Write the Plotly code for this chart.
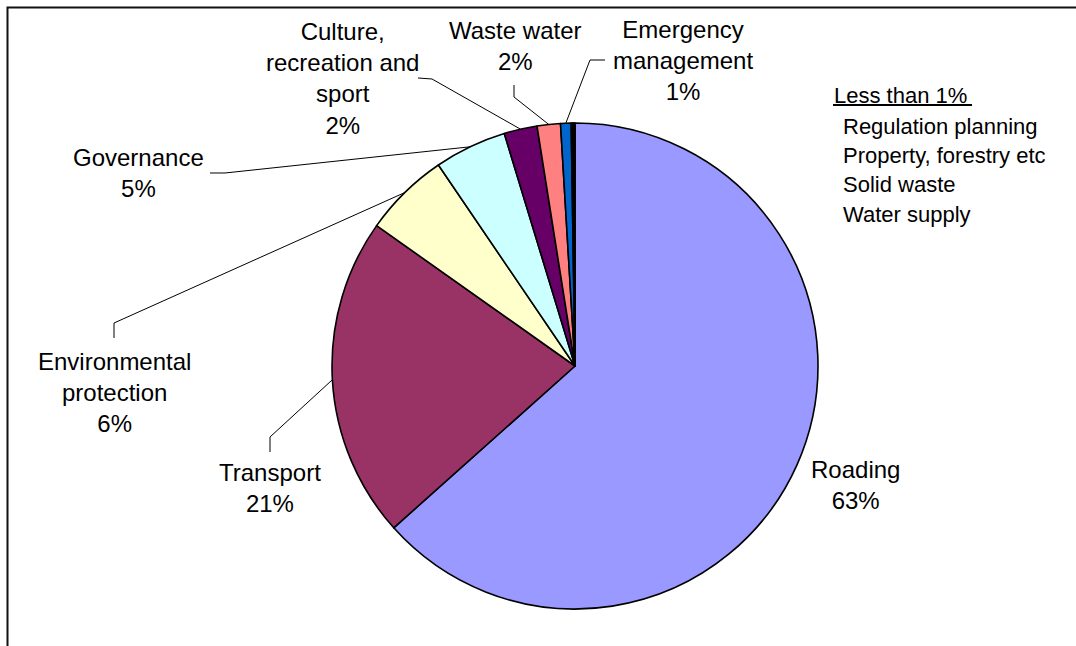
import math
import plotly.graph_objects as go

W, H = 1076, 646

# ---- data ----
categories = ["Roading", "Transport", "Environmental protection", "Governance",
              "Culture, recreation and sport", "Waste water", "Emergency management",
              "Regulation planning", "Property, forestry etc", "Solid waste", "Water supply"]
values = [63.4, 21.4, 5.7, 4.8, 2.2, 1.55, 0.7, 0.1, 0.07, 0.05, 0.03]
colors = ["#9999FF", "#993366", "#FFFFCC", "#CCFFFF", "#660066", "#FF8080", "#0066CC",
          "#CCCCFF", "#000080", "#FF00FF", "#FFFF00"]
small_header = "Less than 1%"
small_items = ["Regulation planning", "Property, forestry etc", "Solid waste", "Water supply"]

# label text (line-broken) for the labelled slices
label_text = {
    "Roading": "Roading",
    "Transport": "Transport",
    "Environmental protection": "Environmental<br>protection",
    "Governance": "Governance",
    "Culture, recreation and sport": "Culture,<br>recreation and<br>sport",
    "Waste water": "Waste water",
    "Emergency management": "Emergency<br>management",
}

# ---- layout geometry (pixels) ----
CX, CY, R = 575, 366, 243
FONT = "Liberation Sans, Arial, sans-serif"

def px(x):
    return x / W

def py(y):
    return 1 - y / H

# label centers and leader-line knee points (pixels)
label_pos = {
    "Roading": (855, 485, None),
    "Transport": (270, 488, [(270, 452), (270, 437)]),
    "Environmental protection": (114, 392, [(114, 338), (114, 323)]),
    "Governance": (138, 173, [(210, 173), (225, 173)]),
    "Culture, recreation and sport": (342, 79, [(418, 78), (432, 79)]),
    "Waste water": (515, 46, [(514, 85), (514, 97)]),
    "Emergency management": (683, 61, [(605, 60), (590, 60)]),
}

fig = go.Figure(go.Pie(
    labels=categories, values=values, sort=False, direction="clockwise", rotation=0,
    marker=dict(colors=colors, line=dict(color="black", width=1.6)),
    textinfo="none", hoverinfo="label+percent", showlegend=False,
    domain=dict(x=[px(CX - R), px(CX + R)], y=[py(CY + R), py(CY - R)]),
))

total = sum(values)
annotations = []
shapes = []
cum = 0.0
for cat, v in zip(categories, values):
    start = cum
    cum += v
    if cat not in label_pos:
        continue
    mid = (start + v / 2) / total * 2 * math.pi
    ax = CX + R * math.sin(mid)
    ay = CY - R * math.cos(mid)
    lx, ly, knee = label_pos[cat]
    pct = round(v / total * 100)
    annotations.append(dict(
        x=px(lx), y=py(ly), xref="paper", yref="paper", xanchor="center", yanchor="middle",
        text=f"{label_text[cat]}<br>{pct}%", showarrow=False, align="center",
        font=dict(family=FONT, size=24, color="black")))
    if knee:
        pts = knee + [(ax, ay)]
        path = "M " + " L ".join(f"{px(x):.5f},{py(y):.5f}" for x, y in pts)
        shapes.append(dict(type="path", path=path, xref="paper", yref="paper",
                           line=dict(color="black", width=1)))

# "Less than 1%" list
annotations.append(dict(x=px(832), y=py(96), xref="paper", yref="paper", xanchor="left",
                        yanchor="middle", text=small_header, showarrow=False,
                        font=dict(family=FONT, size=22, color="black")))
shapes.append(dict(type="line", xref="paper", yref="paper", x0=px(833), x1=px(972),
                   y0=py(105), y1=py(105), line=dict(color="black", width=2)))
for i, item in enumerate(small_items):
    annotations.append(dict(x=px(841), y=py(126 + 29.5 * i), xref="paper", yref="paper",
                            xanchor="left", yanchor="middle", text=item, showarrow=False,
                            font=dict(family=FONT, size=22, color="black")))

# chart frame
shapes.append(dict(type="rect", xref="paper", yref="paper", x0=px(7.5), x1=1.05,
                   y0=-0.05, y1=py(7.5), line=dict(color="#111", width=2)))

fig.update_layout(
    width=W, height=H, margin=dict(l=0, r=0, t=0, b=0),
    paper_bgcolor="white", plot_bgcolor="white",
    annotations=annotations, shapes=shapes,
)

fig.write_html("out.html")
